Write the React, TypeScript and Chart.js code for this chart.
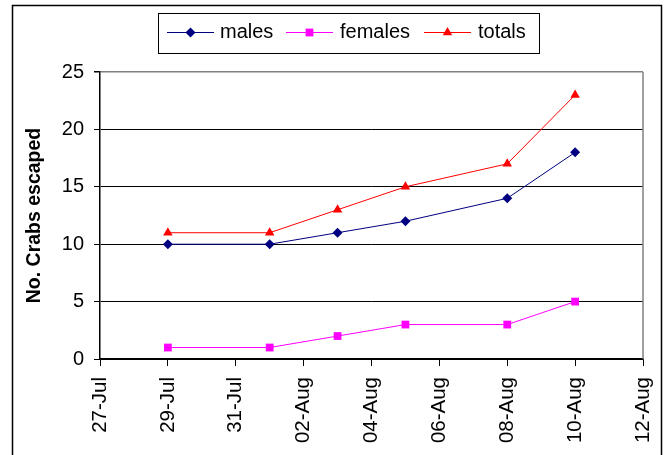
import React, { useEffect, useRef } from 'react';
import { Chart, registerables } from 'chart.js';

Chart.register(...registerables);

const seriesNames = ['males', 'females', 'totals'];
const seriesColors = ['#000080', '#FF00FF', '#FF0000'];
const sampleDates = ['29-Jul', '01-Aug', '03-Aug', '05-Aug', '08-Aug', '10-Aug'];
const males = [10, 10, 11, 12, 14, 18];
const females = [1, 1, 2, 3, 3, 5];
const totals = [11, 11, 13, 15, 17, 23];
const xTickLabels = ['27-Jul', '29-Jul', '31-Jul', '02-Aug', '04-Aug', '06-Aug', '08-Aug', '10-Aug', '12-Aug'];
const yTickValues = [0, 5, 10, 15, 20, 25];
const yTitle = 'No. Crabs escaped';

const FONT = '"Liberation Sans", Arial, sans-serif';

function dayOffset(label: string): number {
  const [d, m] = label.split('-');
  const day = parseInt(d, 10);
  return m === 'Jul' ? day - 27 : day + 31 - 27;
}

const xs = sampleDates.map(dayOffset);
const xMax = dayOffset(xTickLabels[xTickLabels.length - 1]);

function drawMarker(ctx: CanvasRenderingContext2D, style: string, x: number, y: number, r: number, color: string) {
  ctx.save();
  ctx.fillStyle = color;
  ctx.beginPath();
  if (style === 'rectRot') {
    ctx.moveTo(x, y - r);
    ctx.lineTo(x + r, y);
    ctx.lineTo(x, y + r);
    ctx.lineTo(x - r, y);
  } else if (style === 'rect') {
    const s = r * Math.SQRT1_2;
    ctx.rect(x - s, y - s, 2 * s, 2 * s);
  } else {
    ctx.moveTo(x, y - r);
    ctx.lineTo(x + r * Math.sin(Math.PI / 3), y + r * 0.5);
    ctx.lineTo(x - r * Math.sin(Math.PI / 3), y + r * 0.5);
  }
  ctx.closePath();
  ctx.fill();
  ctx.restore();
}

const pointStyles = ['rectRot', 'rect', 'triangle'];
const pointRadii = [5, 5.5, 5.5];

export default function App() {
  const ref = useRef<HTMLCanvasElement>(null);
  useEffect(() => {
    document.body.style.margin = '0';
    const canvas = ref.current!;
    const values = [males, females, totals];

    const framePlugin = {
      id: 'frame',
      beforeDraw(chart: any) {
        const { ctx } = chart;
        ctx.save();
        ctx.fillStyle = '#fff';
        ctx.fillRect(0, 0, chart.width, chart.height);
        ctx.restore();
      },
      afterDraw(chart: any) {
        const { ctx, chartArea } = chart;
        ctx.save();
        // plot area right border
        ctx.strokeStyle = '#808080';
        ctx.lineWidth = 1.5;
        ctx.beginPath();
        ctx.moveTo(chartArea.right, chartArea.top);
        ctx.lineTo(chartArea.right, chartArea.bottom);
        ctx.stroke();
        // outer frame
        ctx.strokeStyle = '#000';
        ctx.lineWidth = 1.5;
        ctx.beginPath();
        ctx.moveTo(12.5, 520);
        ctx.lineTo(12.5, 5.5);
        ctx.lineTo(661.5, 5.5);
        ctx.lineTo(661.5, 520);
        ctx.stroke();
        // legend box
        ctx.lineWidth = 1;
        ctx.strokeStyle = '#000';
        ctx.strokeRect(158.5, 13.5, 381, 40);
        const items = [
          { lineX: 167, textX: 220 },
          { lineX: 286, textX: 340 },
          { lineX: 424, textX: 478 },
        ];
        const ly = 32.5;
        items.forEach((it, i) => {
          ctx.strokeStyle = seriesColors[i];
          ctx.lineWidth = 1;
          ctx.beginPath();
          ctx.moveTo(it.lineX, ly);
          ctx.lineTo(it.lineX + 47, ly);
          ctx.stroke();
          drawMarker(ctx, pointStyles[i], it.lineX + 23.5, ly, pointRadii[i], seriesColors[i]);
          ctx.fillStyle = '#000';
          ctx.font = `20px ${FONT}`;
          ctx.textBaseline = 'middle';
          ctx.textAlign = 'left';
          ctx.fillText(seriesNames[i], it.textX, ly);
        });
        ctx.restore();
      },
    };

    const chart = new Chart(canvas, {
      type: 'line',
      data: {
        datasets: seriesNames.map((name, i) => ({
          label: name,
          data: xs.map((x, j) => ({ x, y: values[i][j] })),
          borderColor: seriesColors[i],
          backgroundColor: seriesColors[i],
          pointBackgroundColor: seriesColors[i],
          pointBorderColor: seriesColors[i],
          pointStyle: pointStyles[i] as any,
          pointRadius: pointRadii[i],
          pointBorderWidth: 0,
          borderWidth: 1,
          tension: 0,
          fill: false,
        })),
      },
      options: {
        animation: false,
        responsive: false,
        maintainAspectRatio: false,
        events: [],
        layout: { padding: { left: 0, top: 72, right: 25, bottom: 0 } },
        plugins: {
          legend: { display: false },
          tooltip: { enabled: false },
        },
        scales: {
          x: {
            type: 'linear',
            min: 0,
            max: xMax,
            afterFit: (axis: any) => {
              axis.height = 455 - 359;
              axis.paddingLeft = 0;
              axis.paddingRight = 0;
            },
            afterBuildTicks: (axis: any) => {
              axis.ticks = xTickLabels.map((_, i) => ({ value: i * 2 }));
            },
            ticks: {
              autoSkip: false,
              maxRotation: 90,
              minRotation: 90,
              padding: 11,
              color: '#000',
              font: { family: FONT, size: 20.5 },
              callback: (v: any) => xTickLabels[Math.round(Number(v) / 2)],
            },
            grid: { drawOnChartArea: false, drawTicks: true, tickLength: 7, color: '#000' },
            border: { color: '#000', width: 1.5 },
          },
          y: {
            min: 0,
            max: 25,
            afterFit: (axis: any) => {
              axis.width = 100;
              axis.paddingTop = 0;
              axis.paddingBottom = 0;
            },
            afterBuildTicks: (axis: any) => {
              axis.ticks = yTickValues.map((v) => ({ value: v }));
            },
            ticks: {
              padding: 10,
              color: '#000',
              font: { family: FONT, size: 20 },
            },
            grid: {
              color: (c: any) => (c.tick && c.tick.value === 25 ? '#808080' : '#000'),
              lineWidth: (c: any) => (c.tick && c.tick.value === 25 ? 1.5 : 1),
              tickColor: '#000',
              tickLength: 6,
            },
            border: { color: '#000', width: 1.5 },
            title: {
              display: true,
              text: yTitle,
              color: '#000',
              font: { family: FONT, size: 19.5, weight: 'bold' },
              padding: { top: 23, bottom: 0 },
            },
          },
        },
      },
      plugins: [framePlugin],
    });
    return () => chart.destroy();
  }, []);
  return (
    <div style={{ position: 'absolute', left: 0, top: 0, width: 668, height: 455 }}>
      <canvas ref={ref} width={668} height={455} style={{ display: 'block', width: 668, height: 455 }} />
    </div>
  );
}
